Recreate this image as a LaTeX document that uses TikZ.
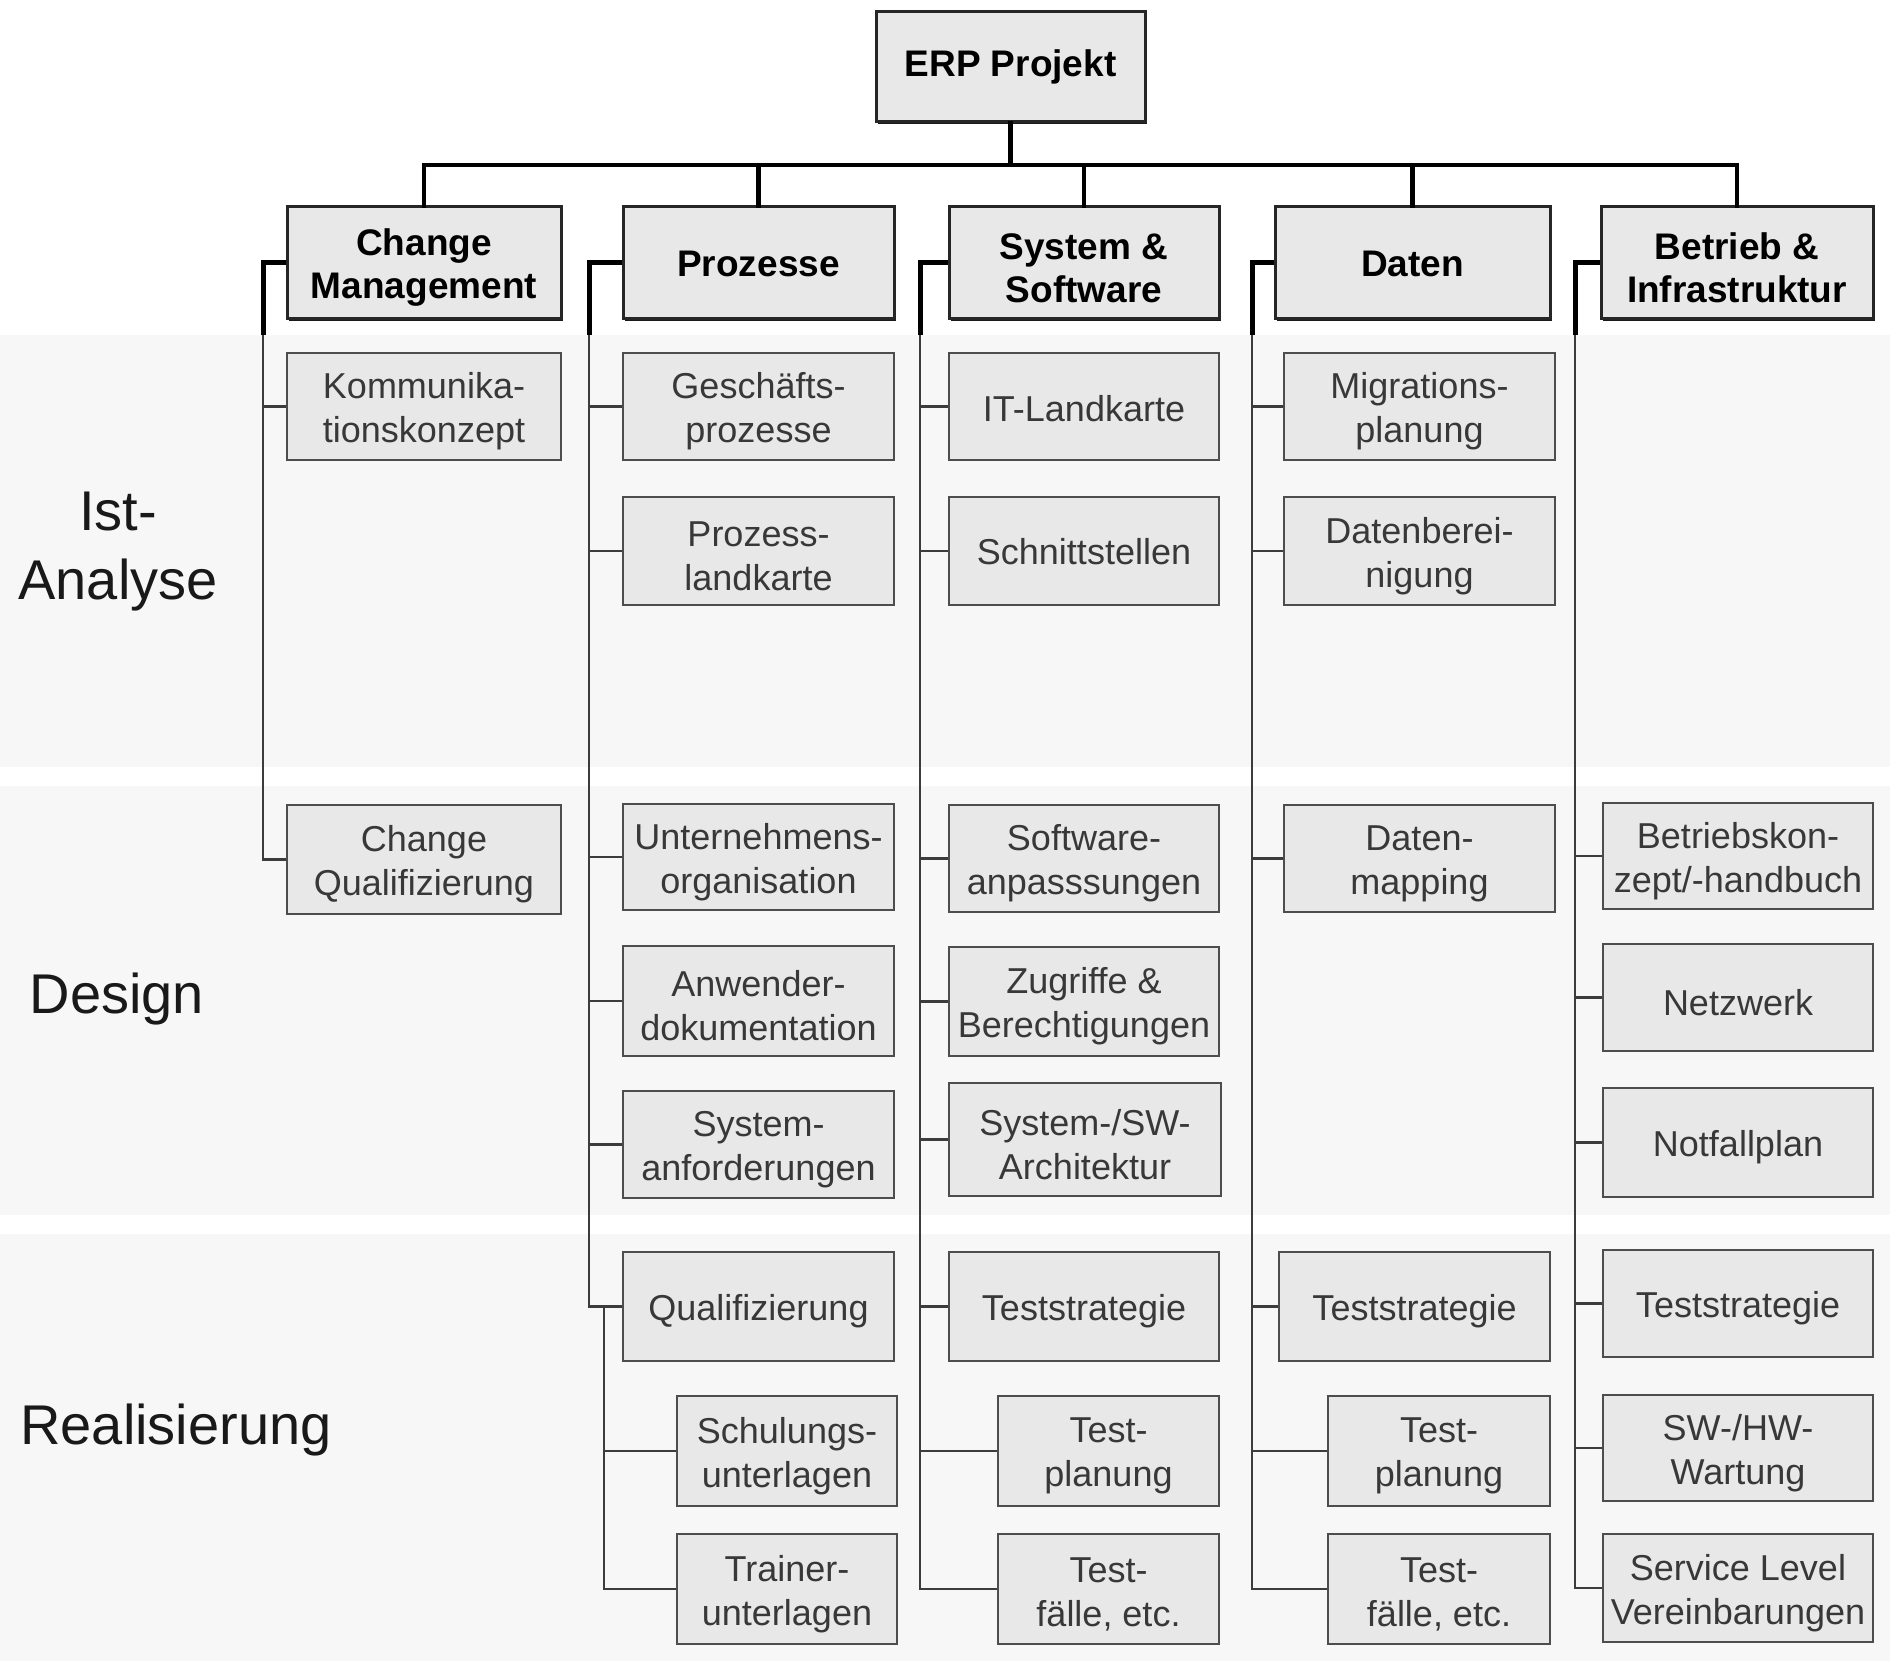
\documentclass[tikz,border=0pt]{standalone}
\usepackage{fontspec}
\setmainfont{Liberation Sans}
\usetikzlibrary{shadows}

\definecolor{bandgrey}{HTML}{F7F7F7}
\definecolor{boxfill}{HTML}{E8E8E8}
\definecolor{boxline}{HTML}{4D4D4D}
\definecolor{boxtext}{HTML}{383838}
\definecolor{spinegrey}{HTML}{3C3C3C}

\tikzset{
  band/.style={fill=bandgrey},
  topbox/.style={draw=black!85, line width=3pt, fill=boxfill, inner sep=0pt,
    drop shadow={shadow xshift=2pt, shadow yshift=-2pt, fill=black, opacity=0.9}},
  topbox text/.style={inner sep=0pt, align=center,
    font=\fontsize{37}{43}\selectfont\bfseries},
  workbox/.style={draw=boxline, line width=2.6pt, fill=boxfill, inner sep=0pt,
    drop shadow={shadow xshift=1.2pt, shadow yshift=-1.2pt, fill=black!70, opacity=0.8}},
  workbox text/.style={inner sep=0pt, align=center, text=boxtext,
    font=\fontsize{36}{44}\selectfont},
  phase/.style={align=center, font=\fontsize{56}{69}\selectfont, text=black!90},
  bar/.style={draw=black, line width=4.5pt, line cap=rect},
  spinetop/.style={draw=black, line width=5pt, line join=miter},
  spine/.style={draw=spinegrey, line width=2.8pt},
}

% box from corner (x1,y1) to corner (x2,y2), in pixel units, with its caption
% optional argument: vertical offset of the caption
\newcommand\pbox[8][-5pt]{%
  \node[#2, minimum width={(#6-#4)*1pt}, minimum height={(#7-#5)*1pt}]
    (#3) at ({(#4+#6)/2},{(#5+#7)/2}) {};
  \node[#2 text] (#3-t) at ([yshift=#1]#3.center) {#8};}

\begin{document}
\begin{tikzpicture}[x=1pt, y=-1pt]
\useasboundingbox (0,0) rectangle (1890,1661);

% phase bands
\fill[band] (0,335) rectangle (1890,767);
\fill[band] (0,786) rectangle (1890,1215);
\fill[band] (0,1234) rectangle (1890,1661);

% phase labels
\node[phase] (ph1) at (118,552) {Ist-\\Analyse};
\node[phase] (ph2) at (117,999) {Design};
\node[phase] (ph3) at (176,1430) {Realisierung};

% root and work streams
\pbox[0pt]{topbox}{erp}{876}{12}{1145}{122}{ERP Projekt}
\pbox{topbox}{cm}{287}{207}{561}{319}{Change\\Management}
\pbox[-1pt]{topbox}{pz}{623}{207}{894}{319}{Prozesse}
\pbox{topbox}{ss}{949}{207}{1219}{319}{System \&\\Software}
\pbox[-1pt]{topbox}{da}{1275}{207}{1550}{319}{Daten}
\pbox{topbox}{bi}{1601}{207}{1873}{319}{Betrieb \&\\Infrastruktur}

% Change Management
\pbox{workbox}{kom}{287}{353}{561}{460}{Kommunika-\\tionskonzept}
\pbox{workbox}{chq}{287}{805}{561}{914}{Change\\Qualifizierung}

% Prozesse
\pbox{workbox}{gp}{623}{353}{894}{460}{Geschäfts-\\prozesse}
\pbox{workbox}{pl}{623}{497}{894}{605}{Prozess-\\landkarte}
\pbox{workbox}{uo}{623}{804}{894}{910}{Unternehmens-\\organisation}
\pbox{workbox}{ad}{623}{946}{894}{1056}{Anwender-\\dokumentation}
\pbox{workbox}{sa}{623}{1091}{894}{1198}{System-\\anforderungen}
\pbox{workbox}{qu}{623}{1252}{894}{1361}{Qualifizierung}
\pbox{workbox}{su}{677}{1396}{897}{1506}{Schulungs-\\unterlagen}
\pbox{workbox}{tu}{677}{1534}{897}{1644}{Trainer-\\unterlagen}

% System & Software
\pbox[-2pt]{workbox}{itl}{949}{353}{1219}{460}{IT-Landkarte}
\pbox[-1pt]{workbox}{sst}{949}{497}{1219}{605}{Schnittstellen}
\pbox{workbox}{swa}{949}{805}{1219}{912}{Software-\\anpasssungen}
\pbox{workbox}{zb}{949}{947}{1219}{1056}{Zugriffe \&\\Berechtigungen}
\pbox{workbox}{arch}{949}{1083}{1221}{1196}{System-/SW-\\Architektur}
\pbox{workbox}{tsa}{949}{1252}{1219}{1361}{Teststrategie}
\pbox{workbox}{tpa}{998}{1396}{1219}{1506}{Test-\\planung}
\pbox{workbox}{tfa}{998}{1534}{1219}{1644}{Test-\\fälle, etc.}

% Daten
\pbox{workbox}{mig}{1284}{353}{1555}{460}{Migrations-\\planung}
\pbox{workbox}{dbr}{1284}{497}{1555}{605}{Datenberei-\\nigung}
\pbox{workbox}{dm}{1284}{805}{1555}{912}{Daten-\\mapping}
\pbox{workbox}{tsb}{1279}{1252}{1550}{1361}{Teststrategie}
\pbox{workbox}{tpb}{1328}{1396}{1550}{1506}{Test-\\planung}
\pbox{workbox}{tfb}{1328}{1534}{1550}{1644}{Test-\\fälle, etc.}

% Betrieb & Infrastruktur
\pbox{workbox}{bk}{1603}{803}{1873}{909}{Betriebskon-\\zept/-handbuch}
\pbox{workbox}{nw}{1603}{944}{1873}{1051}{Netzwerk}
\pbox{workbox}{nf}{1603}{1088}{1873}{1197}{Notfallplan}
\pbox{workbox}{tsc}{1603}{1250}{1873}{1357}{Teststrategie}
\pbox{workbox}{sw}{1603}{1395}{1873}{1501}{SW-/HW-\\Wartung}
\pbox{workbox}{sl}{1603}{1534}{1873}{1642}{Service Level\\Vereinbarungen}

% top distribution bar
\coordinate (barY) at (0,165);
\coordinate (hub) at (erp.south |- barY);
\draw[bar] (erp.south) -- (hub);
\draw[bar] (cm.north) |- (hub) -| (bi.north);
\draw[bar] (pz.north) -- (pz.north |- barY);
\draw[bar] (ss.north) -- (ss.north |- barY);
\draw[bar] (da.north) -- (da.north |- barY);

% spine anchors: x of each spine, y where the heavy part ends
\coordinate (cmX) at (263,335);
\coordinate (pzX) at (589,335);
\coordinate (quX) at (604,0);
\coordinate (ssX) at (920,335);
\coordinate (daX) at (1252,335);
\coordinate (biX) at (1575,335);

% heavy spine starts
\draw[spinetop] (cm.west) -| (cmX);
\draw[spinetop] (pz.west) -| (pzX);
\draw[spinetop] (ss.west) -| (ssX);
\draw[spinetop] (da.west) -| (daX);
\draw[spinetop] (bi.west) -| (biX);

% Change Management spine
\draw[spine] (cmX) |- (chq.west);
\draw[spine] (kom.west) -- (kom.west -| cmX);

% Prozesse spine
\draw[spine] (pzX) |- (qu.west);
\foreach \n in {gp,pl,uo,ad,sa}
  \draw[spine] (\n.west) -- (\n.west -| pzX);
\draw[spine] (qu.west -| quX) |- (tu.west);
\draw[spine] (su.west) -- (su.west -| quX);

% System & Software spine
\draw[spine] (ssX) |- (tfa.west);
\foreach \n in {itl,sst,swa,zb,arch,tsa,tpa}
  \draw[spine] (\n.west) -- (\n.west -| ssX);

% Daten spine
\draw[spine] (daX) |- (tfb.west);
\foreach \n in {mig,dbr,dm,tsb,tpb}
  \draw[spine] (\n.west) -- (\n.west -| daX);

% Betrieb & Infrastruktur spine
\draw[spine] (biX) |- (sl.west);
\foreach \n in {bk,nw,nf,tsc,sw}
  \draw[spine] (\n.west) -- (\n.west -| biX);
\end{tikzpicture}
\end{document}
